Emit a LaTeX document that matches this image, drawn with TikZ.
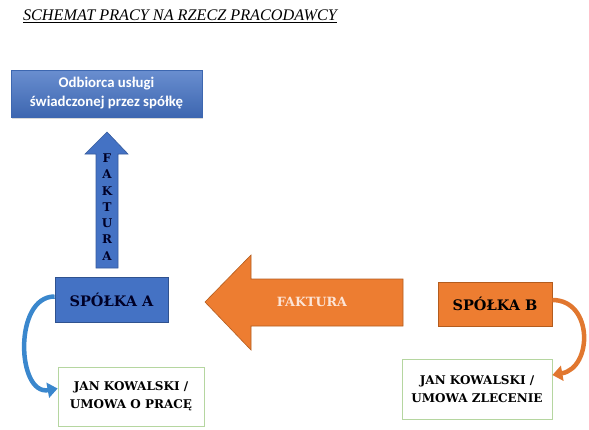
\documentclass[tikz,border=0pt]{standalone}
\usepackage{fontspec}
\setmainfont{Liberation Serif}
\newfontfamily\boxfont{DejaVu Serif}
\newfontfamily\calfont{Carlito}
\usetikzlibrary{arrows.meta,shadows}

\definecolor{firmablue}{HTML}{4472C4}
\definecolor{firmablueline}{HTML}{2F528F}
\definecolor{firmaorange}{HTML}{ED7D31}
\definecolor{firmaorangeline}{HTML}{B35C1E}
\definecolor{osobagreen}{HTML}{B5D6A0}
\definecolor{fakturapale}{HTML}{FCE4D6}

\tikzset{
  firma/.style={draw, line width=0.8pt, minimum width=113pt, minimum height=45pt,
    font=\boxfont\bfseries\fontsize{14.5}{16}\selectfont},
  osoba/.style={draw=osobagreen, fill=white, line width=0.8pt, align=center,
    font=\boxfont\bfseries\fontsize{12}{18}\selectfont},
  zakret/.style={line width=4.5pt, -{Triangle[length=10pt,width=15pt]}},
}

\begin{document}
\begin{tikzpicture}[x=1pt,y=-1pt]
            \useasboundingbox (0,0) rectangle (589,429);

            % Title
            \node (title) at (180,16) {\fontsize{16.2}{18}\selectfont\itshape\underline{SCHEMAT PRACY NA RZECZ PRACODAWCY}};

            % Top box
            \node[top color=firmablue!80!white, bottom color=firmablue!90!black, draw=firmablue!90!black,
              drop shadow={opacity=0.3, shadow xshift=1pt, shadow yshift=-2pt},
              minimum width=191pt, minimum height=47pt, align=center, text=white,
              font=\calfont\bfseries\fontsize{14.8}{19}\selectfont] (odbiorca) at (106.5,93.5)
              {Odbiorca usługi\\świadczonej przez spółkę};

            % Company nodes
            \node[firma, fill=firmablue, draw=firmablueline, text=black!85!blue] (spA) at (111.5,299.5) {SPÓŁKA A};
            \node[firma, fill=firmaorange, draw=firmaorangeline, minimum width=114pt, minimum height=44pt] (spB) at (495,304) {SPÓŁKA B};

            % Person nodes
            \node[osoba, minimum width=146pt, minimum height=59pt] (janA) at (131,396.5) {JAN KOWALSKI /\\UMOWA O PRACĘ};
            \node[osoba, minimum width=150pt, minimum height=60pt] (janB) at (477,389) {JAN KOWALSKI /\\UMOWA ZLECENIE};

            % Invoice arrow up
            \filldraw[fill=firmablue, draw=firmablue!80!black, line width=0.6pt]
              (96,268) -- (96,154) -- (85,154) -- (107,132) -- (128,154) -- (118,154) -- (118,268) -- cycle;
            \node[align=center, text=black!85!blue, font=\boxfont\bfseries\fontsize{12}{16.3}\selectfont] (fakturaA) at (107,207)
              {F\\A\\K\\T\\U\\R\\A};

            % Invoice arrow left
            \filldraw[fill=firmaorange, draw=firmaorangeline, line width=0.6pt]
              (403,279) -- (251,279) -- (251,255) -- (205,302) -- (251,350) -- (251,326) -- (403,326) -- cycle;
            \node[text=fakturapale, font=\boxfont\bfseries\fontsize{12.7}{14}\selectfont] (fakturaB) at (312,302) {FAKTURA};

            % Curved arrows
            \draw[zakret, draw=firmablue!85!cyan] ([yshift=3pt]spA.west) to[out=180, in=190, looseness=1.15] ([yshift=8pt]janA.west);
            \draw[zakret, draw=firmaorange!95!black] ([yshift=4pt]spB.east) to[out=0, in=10, looseness=1.4] ([yshift=14pt]janB.east);
        \end{tikzpicture}
\end{document}
